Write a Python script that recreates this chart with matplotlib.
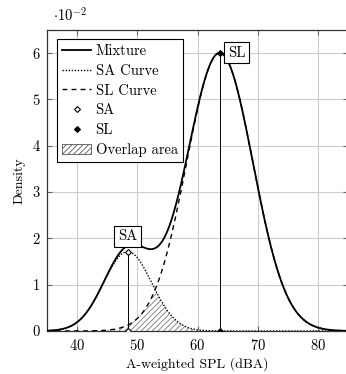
import numpy as np
import matplotlib.pyplot as plt
from matplotlib.patches import Patch
from matplotlib.lines import Line2D
from matplotlib.ticker import FuncFormatter

plt.rcParams['font.family'] = 'serif'
plt.rcParams['font.serif'] = ['cmr10']
plt.rcParams['mathtext.fontset'] = 'cm'
plt.rcParams['axes.unicode_minus'] = False
plt.rcParams['axes.formatter.use_mathtext'] = True
plt.rcParams['font.size'] = 9.5
plt.rcParams['hatch.linewidth'] = 0.6

# mixture components (mean dBA, std, weight)
names = ["SA", "SL"]
means = [48.4, 63.7]
stds = [4.0, 5.5]
weights = [0.172, 0.828]

xticks = [40, 50, 60, 70, 80]
yticks = [0, 0.01, 0.02, 0.03, 0.04, 0.05, 0.06]


def normal(x, mu=0, sigma=1):
    return 1 / (np.sqrt(2 * np.pi) * sigma) * np.exp(-(x - mu)**2 / (2 * sigma**2))


x = np.linspace(35, 85, 600)
sa = weights[0] * normal(x, means[0], stds[0])
sl = weights[1] * normal(x, means[1], stds[1])
mix = sa + sl
sa_peak = weights[0] * normal(means[0], means[0], stds[0])
sl_peak = weights[1] * normal(means[1], means[1], stds[1])

fig = plt.figure(figsize=(3.46, 3.74), dpi=100)
ax = fig.add_axes([47 / 346, 43 / 374, 301 / 346, 301 / 374])

ax.fill_between(x, 0, np.minimum(sa, sl), facecolor='white', edgecolor='#777777',
                hatch='//////', linewidth=0, zorder=2)
ax.plot(x, mix, color='black', lw=1.3, zorder=4)
ax.plot(x, sa, color='black', lw=1.0, ls=(0, (1, 1.2)), zorder=3)
ax.plot(x, sl, color='black', lw=1.0, ls=(0, (3.5, 3)), zorder=3)

ax.plot([means[0], means[0]], [0, sa_peak], color='black', lw=0.7, zorder=5)
ax.plot([means[1], means[1]], [0, sl_peak], color='black', lw=0.7, zorder=5)
ax.plot([means[0], means[0]], [0, sa_peak], ls='none', marker='D', ms=3,
        mfc='white', mec='black', mew=0.8, zorder=6)
ax.plot([means[1], means[1]], [0, sl_peak], ls='none', marker='D', ms=3,
        mfc='black', mec='black', mew=0.8, zorder=6)

box = dict(boxstyle='square,pad=0.25', fc='white', ec='black', lw=0.8)
ax.annotate("SA", (means[0], sa_peak), xytext=(0, 6), textcoords='offset points',
            ha='center', va='bottom', bbox=box, fontsize=10.5, zorder=7)
ax.annotate("SL", (means[1], sl_peak), xytext=(6, 0), textcoords='offset points',
            ha='left', va='center', bbox=box, fontsize=10.5, zorder=7)

ax.set_xlim(35, 85)
ax.set_ylim(0, 0.065)
ax.set_xticks(xticks)
ax.set_yticks(yticks)
ax.yaxis.set_major_formatter(FuncFormatter(lambda v, p: "%d" % round(v * 100)))
ax.grid(True, color='#cccccc', lw=0.8)
ax.set_axisbelow(True)
ax.tick_params(direction='in', top=True, right=True, length=3.5, width=0.8,
               color='#666666', labelsize=10.5, pad=5)
for s in ax.spines.values():
    s.set_linewidth(0.9)
    s.set_color('#333333')

ax.set_xlabel("A-weighted SPL (dBA)", fontsize=10, labelpad=3)
ax.set_ylabel("Density", fontsize=10, labelpad=5)
ax.text(0.02, 1.02, r"$\cdot 10^{-2}$", transform=ax.transAxes, fontsize=10.5,
        ha='left', va='bottom')

handles = [
    Line2D([], [], color='black', lw=1.3),
    Line2D([], [], color='black', lw=1.0, ls=(0, (1, 1.2))),
    Line2D([], [], color='black', lw=1.0, ls=(0, (3.5, 3))),
    Line2D([], [], ls='none', marker='D', ms=3, mfc='white', mec='black', mew=0.8),
    Line2D([], [], ls='none', marker='D', ms=3, mfc='black', mec='black', mew=0.8),
    Patch(facecolor='white', edgecolor='#555555', hatch='//////', lw=0.6),
]
labels = ["Mixture", "SA Curve", "SL Curve", "SA", "SL", "Overlap area"]
leg = ax.legend(handles, labels, loc='upper left', bbox_to_anchor=(0.033, 0.97),
                fontsize=10.5, fancybox=False, framealpha=1, edgecolor='black',
                handlelength=2.0, handletextpad=0.3, labelspacing=0.42,
                borderpad=0.35, borderaxespad=0)
leg.get_frame().set_linewidth(0.8)

fig.savefig("out.png", dpi=100)
